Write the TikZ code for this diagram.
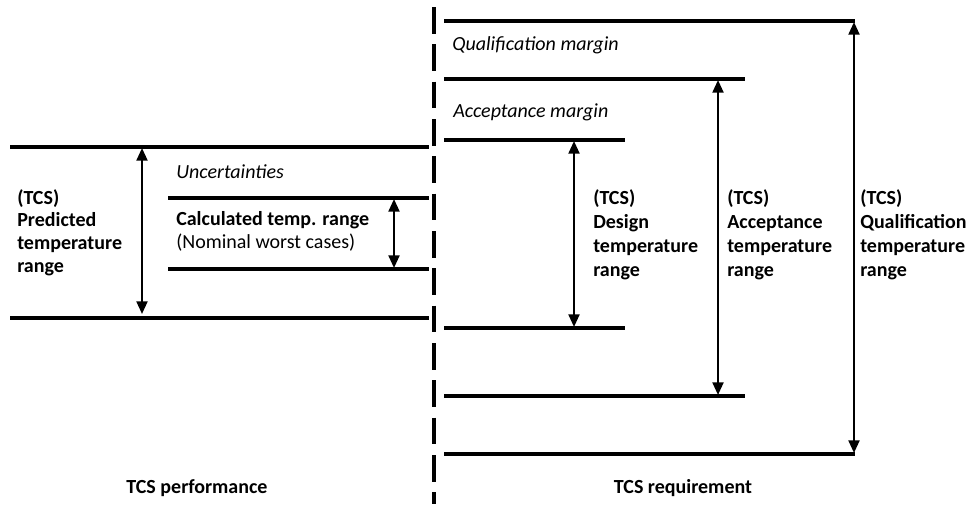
\documentclass[tikz,border=0pt]{standalone}
\usepackage{fontspec}
\setmainfont{Carlito}
\usetikzlibrary{arrows.meta}
\begin{document}
\begin{tikzpicture}[x=0.75pt,y=-0.75pt,
  hline/.style={line width=2.4pt},
  span/.style={line width=1.7pt,{Triangle[length=9.5pt,width=8.2pt]}-{Triangle[length=9.5pt,width=8.2pt]}},
  divider/.style={line width=2.4pt,dash pattern=on 20pt off 8pt},
  txt/.style={font=\fontsize{15}{17}\selectfont,align=left,anchor=base west,inner sep=0pt},
  lbl/.style={txt,font=\bfseries\fontsize{15}{17}\selectfont},
  lblr/.style={txt,font=\bfseries\fontsize{15}{17.8}\selectfont},
  ital/.style={txt,font=\itshape\fontsize{15}{17}\selectfont},
  title/.style={font=\bfseries\fontsize{15}{17}\selectfont,anchor=base,inner sep=0pt}]
\useasboundingbox (0,0) rectangle (966,504);
% divider
\coordinate (dv1) at (434,7);
\coordinate (dv2) at (434,504);
\draw[divider] (dv1) -- (dv2);
% left levels
\coordinate (pt1) at (10,147);  \coordinate (pt2) at (429,147);
\coordinate (pb1) at (10,318);  \coordinate (pb2) at (429,318);
\coordinate (ct1) at (168,198); \coordinate (ct2) at (429,198);
\coordinate (cb1) at (168,269); \coordinate (cb2) at (429,269);
\draw[hline] (pt1) -- (pt2);
\draw[hline] (pb1) -- (pb2);
\draw[hline] (ct1) -- (ct2);
\draw[hline] (cb1) -- (cb2);
\coordinate (pa1) at (142,148); \coordinate (pa2) at (142,314);
\coordinate (ca1) at (394,199); \coordinate (ca2) at (394,268);
\draw[span] (pa1) -- (pa2);
\draw[span] (ca1) -- (ca2);
% right levels
\coordinate (qt1) at (444,21);  \coordinate (qt2) at (855,21);
\coordinate (qb1) at (444,454); \coordinate (qb2) at (855,454);
\coordinate (at1) at (444,79);  \coordinate (at2) at (745,79);
\coordinate (ab1) at (444,396); \coordinate (ab2) at (745,396);
\coordinate (dt1) at (444,140); \coordinate (dt2) at (625,140);
\coordinate (db1) at (444,328); \coordinate (db2) at (625,328);
\draw[hline] (qt1) -- (qt2);
\draw[hline] (qb1) -- (qb2);
\draw[hline] (at1) -- (at2);
\draw[hline] (ab1) -- (ab2);
\draw[hline] (dt1) -- (dt2);
\draw[hline] (db1) -- (db2);
\coordinate (qa1) at (854,22);  \coordinate (qa2) at (854,453);
\coordinate (aa1) at (718,80);  \coordinate (aa2) at (718,395);
\coordinate (da1) at (574,141); \coordinate (da2) at (574,327);
\draw[span] (qa1) -- (qa2);
\draw[span] (aa1) -- (aa2);
\draw[span] (da1) -- (da2);
% texts (base anchor = baseline of last line)
\node[ital] (unc) at (176,178) {Uncertainties};
\node[txt] (calc) at (176,248) {\textbf{Calculated temp. range}\\(Nominal worst cases)};
\node[lbl] (pred) at (17,272) {(TCS)\\Predicted\\temperature\\range};
\node[ital] (qm) at (452,50) {Qualification margin};
\node[ital] (am) at (453,117) {Acceptance margin};
\node[lblr] (des) at (593,276) {(TCS)\\Design\\temperature\\range};
\node[lblr] (acc) at (727,276) {(TCS)\\Acceptance\\temperature\\range};
\node[lblr] (qual) at (860,276) {(TCS)\\Qualification\\temperature\\range};
\node[title] (perf) at (197,493) {TCS performance};
\node[title] (req) at (683,493) {TCS requirement};
\end{tikzpicture}
\end{document}
